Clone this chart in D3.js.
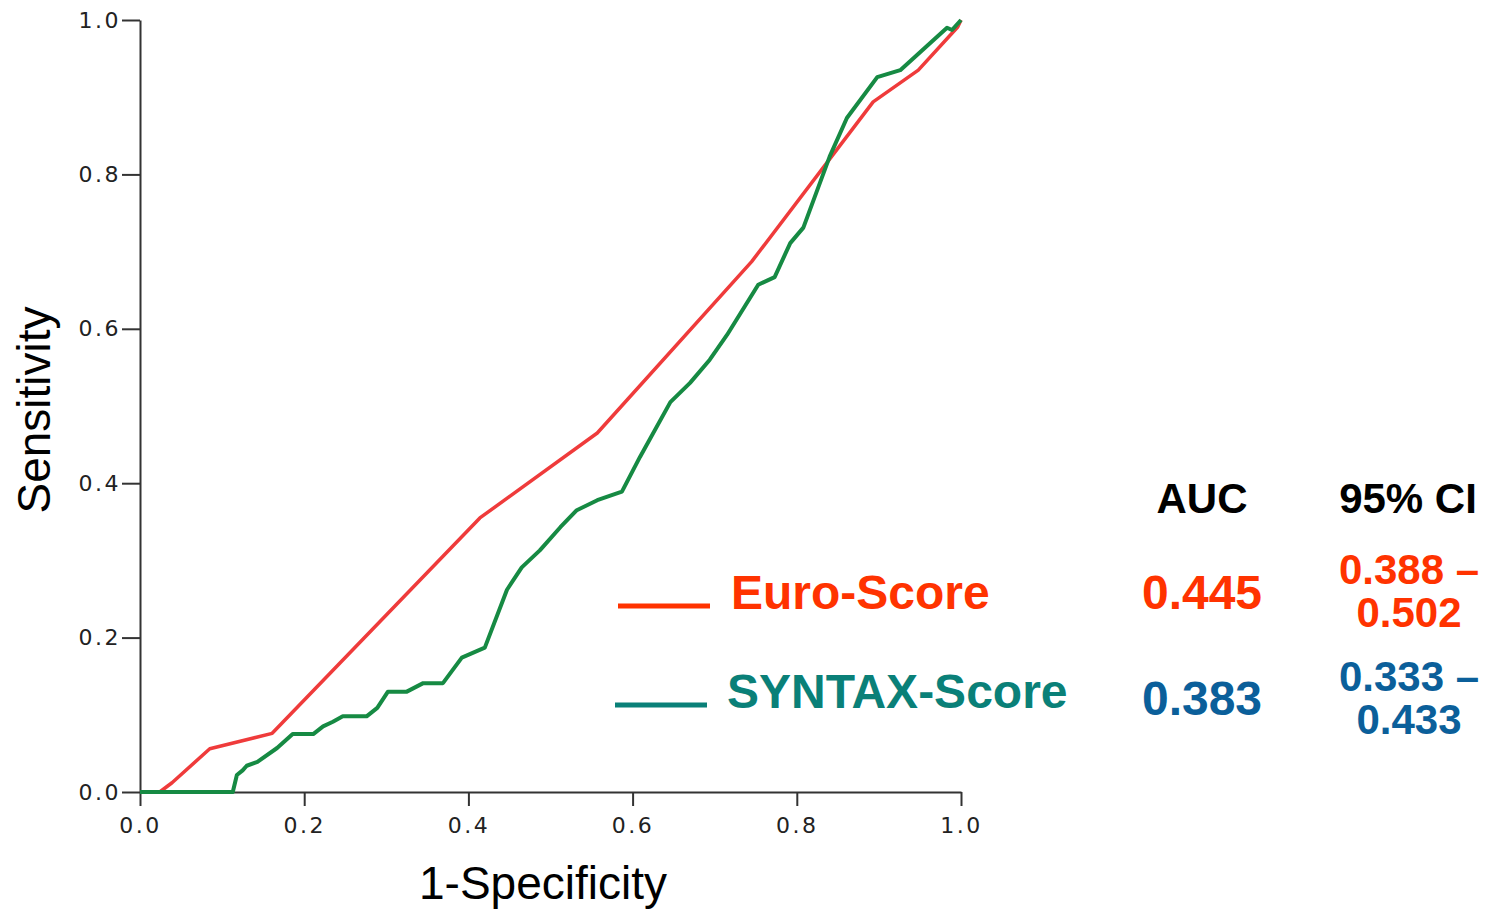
<!DOCTYPE html>
<meta charset="utf-8">
<style>
body { margin: 0; background: #fff; }
.axis path, .axis line { stroke: #333; stroke-width: 2px; }
.axis text { font: 22px "DejaVu Sans", sans-serif; letter-spacing: 2.5px; fill: #222; }
.title { font: 46px "Liberation Sans", Arial, sans-serif; fill: #000; }
.lbl { font: bold 48px "Liberation Sans", Arial, sans-serif; }
</style>
<svg width="1488" height="909"></svg>
<script src="https://cdn.jsdelivr.net/npm/d3@7"></script>
<script>

var ticks = [0, 0.2, 0.4, 0.6, 0.8, 1.0];

// Euro-Score ROC curve [1-specificity, sensitivity]
var euroScore = [
  [0, 0], [0.024, 0], [0.039, 0.012], [0.085, 0.056], [0.161, 0.076],
  [0.414, 0.355], [0.557, 0.465], [0.745, 0.687], [0.893, 0.894],
  [0.948, 0.935], [0.996, 0.991], [1, 1]
];

// SYNTAX-Score ROC curve
var syntaxScore = [
  [0, 0], [0.113, 0], [0.118, 0.022], [0.125, 0.028], [0.130, 0.034],
  [0.143, 0.039], [0.167, 0.057], [0.186, 0.075], [0.211, 0.075],
  [0.223, 0.085], [0.235, 0.091], [0.247, 0.098], [0.276, 0.098],
  [0.289, 0.109], [0.302, 0.130], [0.325, 0.130], [0.345, 0.141],
  [0.369, 0.141], [0.392, 0.174], [0.420, 0.187], [0.447, 0.262],
  [0.465, 0.291], [0.487, 0.313], [0.512, 0.343], [0.532, 0.365],
  [0.557, 0.378], [0.587, 0.389], [0.609, 0.434], [0.646, 0.505],
  [0.670, 0.530], [0.694, 0.560], [0.715, 0.592], [0.753, 0.657],
  [0.773, 0.667], [0.792, 0.711], [0.808, 0.731], [0.840, 0.823],
  [0.861, 0.873], [0.898, 0.926], [0.926, 0.935], [0.983, 0.990],
  [0.989, 0.987], [1, 1]
];

var models = ["Euro-Score", "SYNTAX-Score"];
var auc = ["0.445", "0.383"];
var ciLow = ["0.388", "0.333"];
var ciHigh = ["0.502", "0.433"];

var svg = d3.select("svg");

var x = d3.scaleLinear().domain([0, 1]).range([140, 961]);
var y = d3.scaleLinear().domain([0, 1]).range([792, 20]);

svg.append("g")
    .attr("class", "axis")
    .attr("transform", "translate(0,792)")
    .call(d3.axisBottom(x).tickValues(ticks).tickFormat(d3.format(".1f")).tickSize(14).tickSizeOuter(0).tickPadding(11));

svg.append("g")
    .attr("class", "axis")
    .attr("transform", "translate(140,0)")
    .call(d3.axisLeft(y).tickValues(ticks).tickFormat(d3.format(".1f")).tickSize(18).tickSizeOuter(0).tickPadding(1));

var line = d3.line()
    .x(function(d) { return x(d[0]); })
    .y(function(d) { return y(d[1]); });

svg.append("path")
    .datum(euroScore)
    .attr("fill", "none")
    .attr("stroke", "#ef3b3b")
    .attr("stroke-width", 3.5)
    .attr("stroke-linejoin", "round")
    .attr("d", line);

svg.append("path")
    .datum(syntaxScore)
    .attr("fill", "none")
    .attr("stroke", "#168a43")
    .attr("stroke-width", 4)
    .attr("stroke-linejoin", "round")
    .attr("d", line);

// axis titles
svg.append("text")
    .attr("class", "title")
    .attr("text-anchor", "middle")
    .attr("x", 543)
    .attr("y", 899)
    .text("1-Specificity");

svg.append("text")
    .attr("class", "title")
    .attr("text-anchor", "middle")
    .attr("transform", "translate(50,410) rotate(-90)")
    .text("Sensitivity");

// legend / table
var colors = ["#ff3300", "#0a8078"];
var numColors = ["#ff3300", "#0b5f9a"];
var rowY = [610, 710];
var ciLowY = [584, 691];
var ciHighY = [627, 734];

svg.append("text").attr("class", "lbl").attr("text-anchor", "middle")
    .style("font-size", "42px")
    .attr("x", 1202).attr("y", 513).text("AUC");
svg.append("text").attr("class", "lbl").attr("text-anchor", "middle")
    .style("font-size", "42px")
    .attr("x", 1408).attr("y", 513).text("95% CI");

models.forEach(function(m, i) {
  svg.append("line")
      .attr("x1", i === 0 ? 618 : 615).attr("x2", i === 0 ? 710 : 707)
      .attr("y1", rowY[i] - 4 + (i === 0 ? 0 : -1)).attr("y2", rowY[i] - 4 + (i === 0 ? 0 : -1))
      .attr("stroke", colors[i])
      .attr("stroke-width", 5);

  svg.append("text").attr("class", "lbl")
      .attr("x", i === 0 ? 731 : 727)
      .attr("y", rowY[i] - 1 + (i === 0 ? 0 : -1))
      .attr("fill", colors[i])
      .text(m);

  svg.append("text").attr("class", "lbl").attr("text-anchor", "middle")
      .attr("x", 1202).attr("y", rowY[i] - (i === 0 ? 1 : -5))
      .attr("fill", numColors[i])
      .text(auc[i]);

  svg.append("text").attr("class", "lbl").attr("text-anchor", "middle")
      .style("font-size", "42px")
      .attr("x", 1409).attr("y", ciLowY[i])
      .attr("fill", numColors[i])
      .text(ciLow[i] + " \u2013");

  svg.append("text").attr("class", "lbl").attr("text-anchor", "middle")
      .style("font-size", "42px")
      .attr("x", 1409).attr("y", ciHighY[i])
      .attr("fill", numColors[i])
      .text(ciHigh[i]);
});

</script>
